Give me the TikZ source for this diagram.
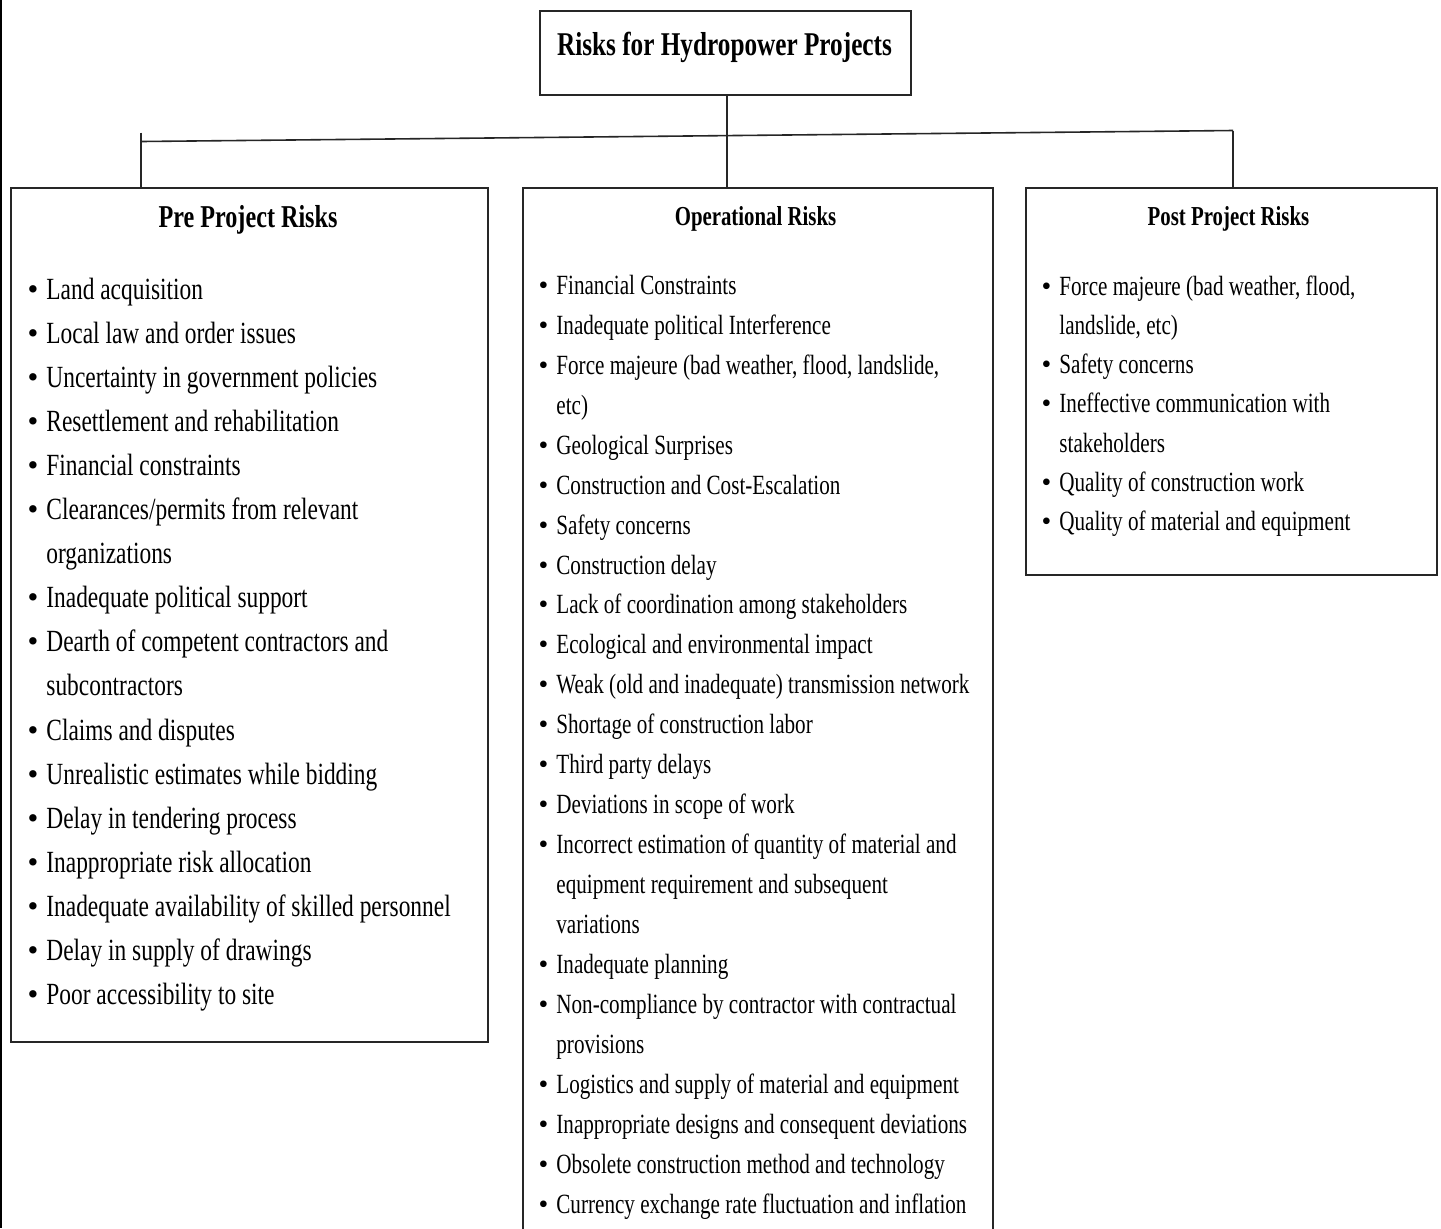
\documentclass[tikz,border=0pt]{standalone}
\usepackage{fontspec}
\setmainfont{Liberation Serif}[FakeStretch=0.76]
\newfontfamily\bulletfont{Liberation Serif}
\usetikzlibrary{calc}
\newcommand{\itembul}{\llap{{\bulletfont\textbullet}\hspace{4pt}}}
\begin{document}
\begin{tikzpicture}[x=0.5pt,y=-0.5pt,
  box/.style={draw=black!85, line width=1pt, rectangle, inner sep=0pt, anchor=north west},
  link/.style={draw=black!85, line width=0.8pt},
  head/.style={anchor=base, inner sep=0pt, font=\bfseries\fontsize{#1}{#1}\selectfont},
  entry/.style={anchor=base west, inner sep=0pt, text=black, font=\fontsize{#1}{#1}\selectfont}]
\useasboundingbox (0,0) rectangle (1441,1228);
\fill[white] (0,0) rectangle (1441,1228);
\clip (0,0) rectangle (1441,1228);

% frame edge on the left
\draw[line width=1pt] (1,0) -- (1,1228);

% boxes
\node[box, minimum width=185.5pt, minimum height=42pt] (title) at (539,10) {};
\node[box, minimum width=238.5pt, minimum height=427pt] (pre) at (10,187) {};
\node[box, minimum width=235pt, minimum height=535pt] (ops) at (522,187) {};
\node[box, minimum width=205.5pt, minimum height=193.5pt] (post) at (1025,187) {};

% headings
\node[head=16.6] (titletext) at (724.5,55) {Risks for Hydropower Projects};
\node[head=15.9] (prehead) at (248,227) {Pre Project Risks};
\node[head=13.7] (opshead) at (755.5,225) {Operational Risks};
\node[head=13.7] (posthead) at (1228.5,225) {Post Project Risks};

% connectors
\coordinate (hubL) at (141,141.5);
\coordinate (hubR) at (1233,130.5);
\coordinate (stem) at (727,0);
\draw[link] (hubL) -- (hubR);
\draw[link] ($(hubL)+(0,-9)$) -- (hubL |- pre.north);
\draw[link] (hubR) -- (hubR |- post.north);
\draw[link] (stem |- title.south) -- (stem |- ops.north);

% pre project list
\foreach \t [count=\i from 0] in {
  \itembul Land acquisition,
  \itembul Local law and order issues,
  \itembul Uncertainty in government policies,
  \itembul Resettlement and rehabilitation,
  \itembul Financial constraints,
  \itembul Clearances/permits from relevant,
  organizations,
  \itembul Inadequate political support,
  \itembul Dearth of competent contractors and,
  subcontractors,
  \itembul Claims and disputes,
  \itembul Unrealistic estimates while bidding,
  \itembul Delay in tendering process,
  \itembul Inappropriate risk allocation,
  \itembul Inadequate availability of skilled personnel,
  \itembul Delay in supply of drawings,
  \itembul Poor accessibility to site}
  \node[entry=15.4] (pre\i) at (46,{299+\i*44.1}) {\t};

% operational list
\foreach \t [count=\i from 0] in {
  \itembul Financial Constraints,
  \itembul Inadequate political Interference,
  {\itembul Force majeure (bad weather, flood, landslide,},
  etc),
  \itembul Geological Surprises,
  \itembul Construction and Cost-Escalation,
  \itembul Safety concerns,
  \itembul Construction delay,
  \itembul Lack of coordination among stakeholders,
  \itembul Ecological and environmental impact,
  \itembul Weak (old and inadequate) transmission network,
  \itembul Shortage of construction labor,
  \itembul Third party delays,
  \itembul Deviations in scope of work,
  \itembul Incorrect estimation of quantity of material and,
  equipment requirement and subsequent,
  variations,
  \itembul Inadequate planning,
  \itembul Non-compliance by contractor with contractual,
  provisions,
  \itembul Logistics and supply of material and equipment,
  \itembul Inappropriate designs and consequent deviations,
  \itembul Obsolete construction method and technology,
  \itembul Currency exchange rate fluctuation and inflation}
  \node[entry=13.9] (ops\i) at (556,{294.3+\i*39.96}) {\t};

% post project list
\foreach \t [count=\i from 0] in {
  {\itembul Force majeure (bad weather, flood,},
  {landslide, etc)},
  \itembul Safety concerns,
  \itembul Ineffective communication with,
  stakeholders,
  \itembul Quality of construction work,
  \itembul Quality of material and equipment}
  \node[entry=13.9] (post\i) at (1059,{295+\i*39.3}) {\t};
\end{tikzpicture}
\end{document}
